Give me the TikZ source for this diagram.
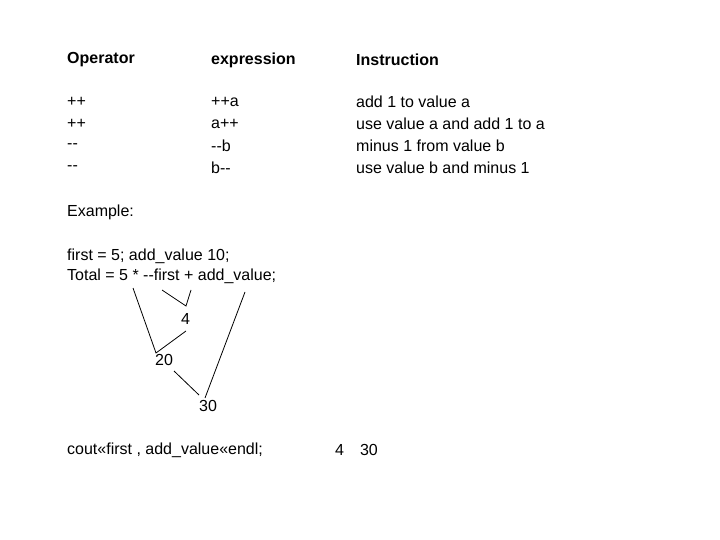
\documentclass[tikz,border=0pt]{standalone}
\usepackage{fontspec}
\setmainfont{Liberation Sans}
\usetikzlibrary{positioning}
\begin{document}
\begin{tikzpicture}[x=1pt,y=-1pt,txt/.style={anchor=west,inner sep=0pt,font=\fontsize{16}{19}\selectfont},
  hd/.style={txt,font=\fontsize{16}{19}\selectfont\bfseries},link/.style={black,line width=0.8pt}]
\useasboundingbox[fill=white] (0,0) rectangle (720,540);
% table
\node[hd] (op) at (67,60) {Operator};
\node[hd] (ex) at (211,60) {expression};
\node[hd] (in) at (356,60) {Instruction};
\foreach \o/\e/\i [count=\k] in {++/++a/add 1 to value a,++/a++/use value a and add 1 to a,{-}{-}/{-}{-}b/minus 1 from value b,{-}{-}/b{-}{-}/use value b and minus 1}{
  \node[txt] (o\k) at (67,80+22*\k) {\o};
  \node[txt] (e\k) at (211,80+22*\k) {\e};
  \node[txt] (i\k) at (356,80+22*\k) {\i};
}
\node[txt] (example) at (67,212) {Example:};
\node[txt] (first) at (67,256) {first = 5; add\_value 10;};
\node[txt] (total) at (67,276) {Total = 5 * {-}{-}first + add\_value;};
\node[txt] (four) at (181,319) {4};
\node[txt] (twenty) at (155,360) {20};
\node[txt] (thirty) at (199,406) {30};
\node[txt] (cout) at (67,450) {cout<<first , add\_value<<endl;};
\node[txt] (out) at (335,450) {4\hspace{1em}30};
% evaluation tree
\coordinate (five) at (133,288);
\coordinate (decl) at (162,290);
\coordinate (decr) at (191,290);
\coordinate (addv) at (245,292);
\draw[link] (decl) -- (186,306) -- (decr);
\draw[link] (five) -- (156,353) -- (186,331);
\draw[link] (174,371) -- (199,395);
\draw[link] (addv) -- (205,398);
\end{tikzpicture}
\end{document}
